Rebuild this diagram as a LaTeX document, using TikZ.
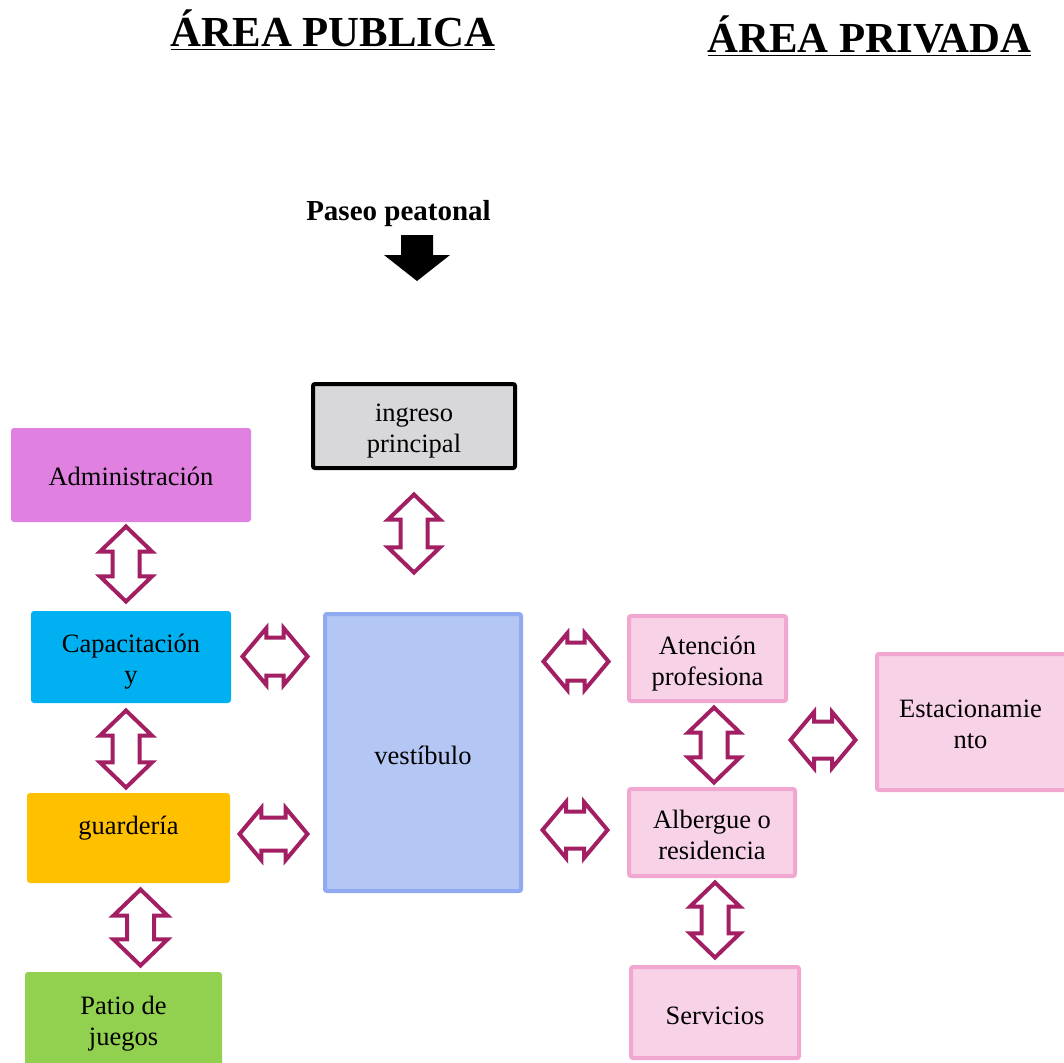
\documentclass[tikz,border=0pt]{standalone}
\usepackage{fontspec}
\setmainfont{Liberation Serif}
\usetikzlibrary{shapes.arrows}
\definecolor{admc}{HTML}{E080E0}
\definecolor{capc}{HTML}{00B0F0}
\definecolor{guac}{HTML}{FFC000}
\definecolor{patc}{HTML}{92D050}
\definecolor{ingc}{HTML}{D8D8DB}
\definecolor{vesc}{HTML}{B4C7F4}
\definecolor{vesb}{HTML}{8FAAF0}
\definecolor{pinc}{HTML}{F8D3E8}
\definecolor{pinb}{HTML}{F2A7D0}
\definecolor{arrc}{HTML}{A21F63}
\begin{document}
\begin{tikzpicture}[x=1pt,y=-1pt,
  boxtext/.style={align=center, font=\fontsize{26.5}{31}\selectfont, inner sep=0pt},
  flatbox/.style={inner sep=0pt, rounded corners=3pt},
  edgebox/.style={inner sep=0pt, rounded corners=2pt, line width=4pt},
  pinkbox/.style={edgebox, draw=pinb, fill=pinc},
  varrow/.style={double arrow, draw=arrc, line width=4pt, fill=white, rotate=90,
    inner xsep=0pt, inner ysep=11.5pt, double arrow head extend=12.5pt,
    double arrow tip angle=92, outer sep=0pt},
  harrow/.style={double arrow, draw=arrc, line width=4pt, fill=white,
    inner xsep=0pt, inner ysep=17pt, double arrow head extend=9.5pt,
    double arrow tip angle=100, outer sep=0pt},
  title/.style={font=\fontsize{42.8}{50}\selectfont\bfseries, inner sep=0pt, anchor=base}
]
\useasboundingbox (0,0) rectangle (1064,1062);

% titles
\node[title] (tpub) at (333,47) {\underline{ÁREA PUBLICA}};
\node[title] (tpriv) at (869.5,53) {\underline{ÁREA PRIVADA}};
\node[font=\fontsize{29}{34}\selectfont\bfseries, inner sep=0pt, anchor=base] (paseo) at (398.5,220) {Paseo peatonal};
\fill (401,235) -- (433,235) -- (433,255) -- (450,255) -- (417,281) -- (384,255) -- (401,255) -- cycle;

% public boxes
\node[flatbox, fill=admc, minimum width=240pt, minimum height=94pt] (adm) at (131,475) {};
\node[boxtext, yshift=-1pt] (admt) at (adm) {Administración};
\node[flatbox, fill=capc, minimum width=200pt, minimum height=92pt] (cap) at (131,657) {};
\node[boxtext, yshift=-4.5pt] (capt) at (cap) {Capacitación\\y};
\node[flatbox, fill=guac, minimum width=203pt, minimum height=90pt] (gua) at (128.5,838) {};
\node[boxtext] (guat) at (128.5,828) {guardería};
\node[flatbox, fill=patc, minimum width=197pt, minimum height=94pt] (pat) at (123.5,1019) {};
\node[boxtext, yshift=-5pt] (patt) at (pat) {Patio de\\juegos};

% centre
\node[edgebox, draw=black, fill=ingc, minimum width=202pt, minimum height=84pt] (ing) at (414,426) {};
\node[boxtext, yshift=-5pt] (ingt) at (ing) {ingreso\\principal};
\node[edgebox, draw=vesb, fill=vesc, minimum width=196pt, minimum height=277pt] (ves) at (423,752.5) {};
\node[boxtext, yshift=-3pt] (vest) at (ves) {vestíbulo};

% private boxes
\node[pinkbox, minimum width=157pt, minimum height=85pt] (ate) at (707.5,658.5) {};
\node[boxtext, yshift=-5pt] (atet) at (ate) {Atención\\profesiona};
\node[pinkbox, minimum width=192pt, minimum height=136pt] (est) at (973,722) {};
\node[boxtext, yshift=-2pt, xshift=-2.5pt] (estt) at (est) {Estacionamie\\nto};
\node[pinkbox, minimum width=166pt, minimum height=87pt] (alb) at (712,832.5) {};
\node[boxtext, yshift=-2pt] (albt) at (alb) {Albergue o\\residencia};
\node[pinkbox, minimum width=168pt, minimum height=91pt] (ser) at (715,1012.5) {};
\node[boxtext, yshift=-3pt] (sert) at (ser) {Servicios};

% vertical double arrows
\node[varrow, minimum height=75pt] (a1) at (126,564) {};
\node[varrow, minimum height=78pt] (a2) at (414,533.5) {};
\node[varrow, minimum height=77pt] (a3) at (126,749) {};
\node[varrow, minimum height=76pt, double arrow head extend=13.5pt] (a4) at (140.5,927.5) {};
\node[varrow, minimum height=75pt] (a5) at (714,745) {};
\node[varrow, minimum height=75pt, double arrow head extend=11.5pt] (a6) at (715,920) {};

% horizontal double arrows
\node[harrow, minimum height=65pt] (h1) at (275,656.5) {};
\node[harrow, minimum height=68pt, inner ysep=14.5pt] (h2) at (273.5,834) {};
\node[harrow, minimum height=65pt] (h3) at (576,661.5) {};
\node[harrow, minimum height=65pt, inner ysep=16.5pt] (h4) at (575,830) {};
\node[harrow, minimum height=65pt, inner ysep=16.5pt] (h5) at (823,740) {};
\end{tikzpicture}
\end{document}
